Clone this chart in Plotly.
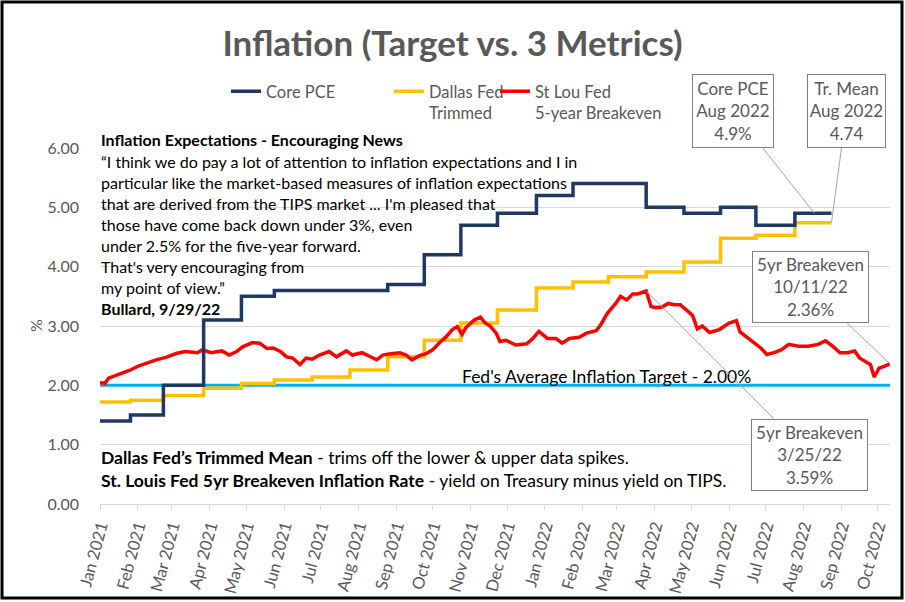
import plotly.graph_objects as go
import datetime as _dt

# ---------------- data ----------------
month_dates = ["2021-01-01", "2021-01-26", "2021-02-22", "2021-03-27", "2021-04-27",
               "2021-05-24", "2021-06-24", "2021-07-25", "2021-08-25", "2021-09-24",
               "2021-10-24", "2021-11-23", "2021-12-25", "2022-01-24", "2022-02-22",
               "2022-03-25", "2022-04-25", "2022-05-25", "2022-06-23", "2022-07-25",
               "2022-08-24"]
core_pce = [1.4, 1.5, 2.0, 3.1, 3.5, 3.6, 3.6, 3.6, 3.7, 4.2, 4.7, 4.9, 5.2, 5.4,
            5.4, 5.0, 4.9, 5.0, 4.7, 4.9, 4.9]
dallas_trimmed = [1.72, 1.75, 1.83, 1.95, 2.03, 2.09, 2.14, 2.26, 2.48, 2.76, 3.05,
                  3.27, 3.64, 3.74, 3.83, 3.91, 4.08, 4.48, 4.53, 4.74, 4.74]

be_dates = ["2021-01-01", "2021-01-05", "2021-01-08", "2021-01-15", "2021-01-25", "2021-02-02",
            "2021-02-11", "2021-02-16", "2021-02-24", "2021-03-05", "2021-03-12", "2021-03-22",
            "2021-03-26", "2021-04-02", "2021-04-11", "2021-04-17", "2021-04-23", "2021-04-28",
            "2021-05-06", "2021-05-12", "2021-05-18", "2021-05-23", "2021-05-29", "2021-06-03",
            "2021-06-08", "2021-06-14", "2021-06-19", "2021-06-24", "2021-06-30", "2021-07-08",
            "2021-07-14", "2021-07-22", "2021-07-27", "2021-08-04", "2021-08-10", "2021-08-16",
            "2021-08-21", "2021-08-26", "2021-09-04", "2021-09-09", "2021-09-14", "2021-09-20",
            "2021-09-26", "2021-10-01", "2021-10-06", "2021-10-12", "2021-10-17", "2021-10-21",
            "2021-10-25", "2021-10-28", "2021-11-04", "2021-11-09", "2021-11-13", "2021-11-17",
            "2021-11-22", "2021-11-25", "2021-11-30", "2021-12-08", "2021-12-17", "2021-12-22",
            "2021-12-27", "2022-01-03", "2022-01-10", "2022-01-15", "2022-01-21", "2022-01-29",
            "2022-02-04", "2022-02-12", "2022-02-16", "2022-02-21", "2022-02-28", "2022-03-04",
            "2022-03-09", "2022-03-14", "2022-03-18", "2022-03-22", "2022-03-25", "2022-03-29",
            "2022-04-02", "2022-04-07", "2022-04-12", "2022-04-17", "2022-04-22", "2022-04-27",
            "2022-05-02", "2022-05-06", "2022-05-10", "2022-05-16", "2022-05-24", "2022-06-01",
            "2022-06-07", "2022-06-10", "2022-06-16", "2022-06-22", "2022-06-27", "2022-07-02",
            "2022-07-08", "2022-07-14", "2022-07-20", "2022-07-28", "2022-08-05", "2022-08-13",
            "2022-08-19", "2022-08-25", "2022-08-31", "2022-09-06", "2022-09-12", "2022-09-16",
            "2022-09-21", "2022-09-25", "2022-09-28", "2022-10-02", "2022-10-06", "2022-10-11"]
breakeven = [2.05, 2.03, 2.12, 2.17, 2.25, 2.33,
             2.40, 2.43, 2.47, 2.54, 2.57, 2.55,
             2.60, 2.55, 2.58, 2.51, 2.57, 2.65,
             2.72, 2.71, 2.62, 2.63, 2.57, 2.48,
             2.46, 2.35, 2.46, 2.44, 2.51, 2.57,
             2.48, 2.58, 2.51, 2.55, 2.49, 2.43,
             2.51, 2.53, 2.55, 2.51, 2.43, 2.50,
             2.54, 2.60, 2.71, 2.82, 2.94, 2.99,
             2.86, 2.97, 3.10, 3.15, 3.05, 3.00,
             2.88, 2.74, 2.76, 2.68, 2.70, 2.79,
             2.91, 2.79, 2.79, 2.71, 2.79, 2.81,
             2.88, 2.92, 3.03, 3.21, 3.38, 3.50,
             3.44, 3.54, 3.54, 3.57, 3.59, 3.33,
             3.31, 3.32, 3.38, 3.36, 3.36, 3.27,
             3.18, 2.95, 3.00, 2.89, 2.94, 3.05,
             3.09, 2.90, 2.80, 2.71, 2.63, 2.52,
             2.55, 2.60, 2.69, 2.66, 2.66, 2.69,
             2.75, 2.66, 2.55, 2.55, 2.58, 2.46,
             2.40, 2.35, 2.14, 2.29, 2.32, 2.36]
target_dates = ["2021-01-01", "2022-10-11"]
target_vals = [2.0, 2.0]

y_ticks = [0, 1, 2, 3, 4, 5, 6]
x_ticks = ["2021-01-01", "2021-02-01", "2021-03-01", "2021-04-01", "2021-05-01", "2021-06-01",
           "2021-07-01", "2021-08-01", "2021-09-01", "2021-10-01", "2021-11-01", "2021-12-01",
           "2022-01-01", "2022-02-01", "2022-03-01", "2022-04-01", "2022-05-01", "2022-06-01",
           "2022-07-01", "2022-08-01", "2022-09-01", "2022-10-01"]
x_labels = ["Jan 2021", "Feb 2021", "Mar 2021", "Apr 2021", "May 2021", "Jun 2021",
            "Jul 2021", "Aug 2021", "Sep 2021", "Oct 2021", "Nov 2021", "Dec 2021",
            "Jan 2022", "Feb 2022", "Mar 2022", "Apr 2022", "May 2022", "Jun 2022",
            "Jul 2022", "Aug 2022", "Sep 2022", "Oct 2022"]

# ---------------- layout geometry ----------------
W, H = 905, 602
L, R, T, B = 100, 15, 148, 98
PW, PH = W - L - R, H - T - B
FONT = "Lato"
GRAY = "#595959"


def px_x(px):
    return (px - L) / PW


def px_y(py):
    return (H - B - py) / PH


fig = go.Figure()
fig.add_trace(go.Scatter(x=target_dates, y=target_vals, mode="lines",
                         line=dict(color="#00B0F0", width=3), showlegend=False,
                         hoverinfo="skip"))
fig.add_trace(go.Scatter(x=month_dates, y=dallas_trimmed, mode="lines", name="Dallas Fed<br>Trimmed",
                         line=dict(color="#FFC000", width=3.5, shape="hv"), legend="legend2"))
fig.add_trace(go.Scatter(x=be_dates, y=breakeven, mode="lines", name="St Lou Fed<br>5-year Breakeven",
                         line=dict(color="#FF0000", width=3.5), legend="legend3"))
fig.add_trace(go.Scatter(x=month_dates, y=core_pce, mode="lines", name="Core PCE",
                         line=dict(color="#1F3864", width=3.5, shape="hv"), legend="legend"))

leg_common = dict(orientation="v", font=dict(family=FONT, size=16.5, color=GRAY),
                  bgcolor="rgba(0,0,0,0)", yanchor="top", xanchor="left", valign="top")
annotations = []

# quote block
quote_lines = [
    "<b>Inflation Expectations - Encouraging News</b>",
    "“I think we do pay a lot of attention to inflation expectations and I in",
    "particular like the market-based measures of inflation expectations",
    "that are derived from the TIPS market ... I'm pleased that",
    "those have come back down under 3%, even",
    "under 2.5% for the five-year forward.",
    "That's very encouraging from",
    "my point of view.”",
    "<b>Bullard, 9/29/22</b>",
]
for i, ln in enumerate(quote_lines):
    annotations.append(dict(text=ln, xref="paper", yref="paper", x=px_x(99), y=px_y(140 + 21.1 * i),
                            xanchor="left", yanchor="middle", showarrow=False,
                            font=dict(family=FONT, size=16, color="#000000")))

notes = [
    "<b>Dallas Fed’s Trimmed Mean</b> - trims off the lower & upper data spikes.",
    "<b>St. Louis Fed 5yr Breakeven Inflation Rate</b> - yield on Treasury minus yield on TIPS.",
]
for i, ln in enumerate(notes):
    annotations.append(dict(text=ln, xref="paper", yref="paper", x=px_x(99), y=px_y(457 + 23 * i),
                            xanchor="left", yanchor="middle", showarrow=False,
                            font=dict(family=FONT, size=17.5, color="#000000")))

annotations.append(dict(text="Fed's Average Inflation Target - 2.00%", xref="paper", yref="paper",
                        x=px_x(606), y=px_y(376), xanchor="center", yanchor="middle",
                        showarrow=False, font=dict(family=FONT, size=17.5, color="#000000")))

annotations.append(dict(text="%", xref="paper", yref="paper", x=px_x(35), y=px_y(326),
                        xanchor="center", yanchor="middle", textangle=-90, showarrow=False,
                        font=dict(family=FONT, size=16, color=GRAY)))

box_common = dict(xref="x", yref="y", showarrow=True, arrowhead=0, arrowwidth=1,
                  arrowcolor="#A6A6A6", bordercolor="#7F7F7F", borderwidth=1, borderpad=1,
                  bgcolor="#FFFFFF", font=dict(family=FONT, size=17, color=GRAY),
                  align="center")
callouts = [
    ("Core PCE<br>Aug 2022<br>4.9%", "2022-08-10", 4.9, 733.5, 111, 78, 70),
    ("Tr. Mean<br>Aug 2022<br>4.74", "2022-08-24", 4.74, 846.5, 111, 75, 70),
    ("5yr Breakeven<br>10/11/22<br>2.36%", "2022-10-11", 2.36, 810, 287.5, 113, 68),
    ("5yr Breakeven<br>3/25/22<br>3.59%", "2022-03-25", 3.59, 810, 455, 113, 68),
]
for text, dx, dy, bx, by, bw, bh in callouts:
    d = (_dt.date.fromisoformat(dx) - _dt.date(2021, 1, 1)).days
    tx = L + d * PW / 648.0
    ty = H - B - dy * PH / 6.0
    annotations.append(dict(box_common, text=text, x=dx, y=dy, ax=bx - tx, ay=by - ty,
                            width=bw, height=bh))

fig.update_layout(
    width=W, height=H, margin=dict(l=L, r=R, t=T, b=B, autoexpand=False),
    paper_bgcolor="#FFFFFF", plot_bgcolor="#FFFFFF",
    title=dict(text="<b>Inflation (Target vs. 3 Metrics)</b>", x=0.5, xanchor="center",
               y=1 - 44 / H, yanchor="middle",
               font=dict(family=FONT, size=35, color=GRAY)),
    font=dict(family=FONT, size=15, color=GRAY),
    legend=dict(leg_common, x=px_x(226), y=px_y(74)),
    legend2=dict(leg_common, x=px_x(389), y=px_y(74)),
    legend3=dict(leg_common, x=px_x(495), y=px_y(74)),
    xaxis=dict(range=["2021-01-01", "2022-10-11"], tickvals=x_ticks, ticktext=x_labels,
               tickangle=-75, showgrid=False, showline=True, linecolor="#D9D9D9", linewidth=1,
               ticks="outside", ticklen=5, tickcolor="#D9D9D9", zeroline=False,
               automargin=False,
               tickfont=dict(family=FONT, size=16.5, color=GRAY)),
    yaxis=dict(range=[0, 6], tickvals=y_ticks, tickformat=".2f", showgrid=True,
               gridcolor="#D9D9D9", gridwidth=1, zeroline=False, showline=False,
               ticklabelstandoff=20, automargin=False,
               tickfont=dict(family=FONT, size=16, color=GRAY)),
    annotations=annotations,
    shapes=[dict(type="rect", xref="paper", yref="paper", x0=px_x(2), x1=px_x(902),
                 y0=px_y(598), y1=px_y(2), line=dict(color="#000000", width=3))],
    hovermode=False,
)

fig.write_html("out.html", config={"displayModeBar": False},
               post_script="document.body.style.margin='0px';")
